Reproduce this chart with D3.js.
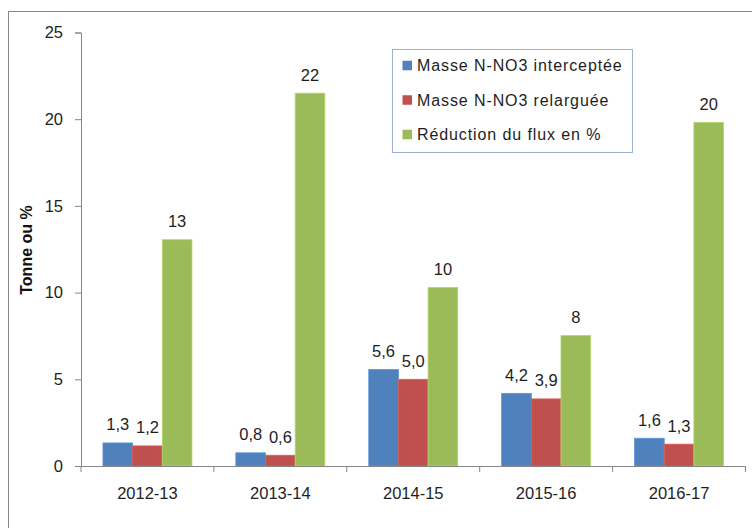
<!DOCTYPE html>
<html><head><meta charset="utf-8">
<script src="https://cdn.jsdelivr.net/npm/d3@7/dist/d3.min.js"></script>
<style>
html,body{margin:0;padding:0;background:#fff;}
svg{display:block;font-family:"Liberation Sans",Arial,sans-serif;}
</style></head>
<body>
<svg id="chart" width="752" height="528"></svg>
<script>
const categories = ["2012-13","2013-14","2014-15","2015-16","2016-17"];
const seriesNames = ["Masse N-NO3 interceptée","Masse N-NO3 relarguée","Réduction du flux en %"];
const intercepted = [1.33, 0.76, 5.57, 4.19, 1.6];
const released = [1.16, 0.62, 5.0, 3.87, 1.26];
const reduction = [13.05, 21.5, 10.3, 7.52, 19.82];
const yTicks = [0, 5, 10, 15, 20, 25];
const colors = ["#4F81BD","#C0504D","#9BBB59"];
const labelFormats = [".1f", ".1f", ".0f"];

(function () {
const series = [intercepted, released, reduction];
const fr = d3.formatLocale({decimal: ",", thousands: " ", grouping: [3], currency: ["", " €"]});

const svg = d3.select("#chart");
const mLeft = 81, mRight = 745.5, mTop = 32.5, mBottom = 466;

// outer border
svg.append("rect").attr("x", 8.5).attr("y", 11.5).attr("width", 760).attr("height", 540)
  .attr("fill", "none").attr("stroke", "#878787").attr("stroke-width", 1);

const y = d3.scaleLinear().domain([0, 25]).range([mBottom, mTop]);
const x0 = d3.scaleBand().domain(categories).range([mLeft, mRight]).paddingInner(0).paddingOuter(0);
const bw = x0.bandwidth();
const x1 = d3.scaleBand().domain(d3.range(series.length)).range([0, bw]).paddingInner(0).paddingOuter(0.74);

// bars
series.forEach((vals, si) => {
  const g = svg.append("g");
  g.selectAll("rect").data(vals).join("rect")
    .attr("x", (d, i) => x0(categories[i]) + x1(si))
    .attr("y", d => y(d))
    .attr("width", x1.bandwidth())
    .attr("height", d => y(0) - y(d))
    .attr("fill", colors[si])
    .attr("stroke", d3.color(colors[si]).brighter(0.4))
    .attr("stroke-width", 0.8);
  g.selectAll("text").data(vals).join("text")
    .attr("x", (d, i) => x0(categories[i]) + x1(si) + x1.bandwidth() / 2)
    .attr("y", d => y(d) - 12.5)
    .attr("text-anchor", "middle")
    .attr("font-size", 16.5)
    .attr("fill", "#1e1e1e")
    .text(d => fr.format(labelFormats[si])(d));
});

// y axis
const yAxis = svg.append("g").attr("transform", `translate(${mLeft},0)`)
  .call(d3.axisLeft(y).tickValues(yTicks).tickSize(6).tickPadding(12).tickFormat(d3.format("d")));
yAxis.select(".domain").attr("stroke", "#868686");
yAxis.selectAll(".tick line").attr("stroke", "#868686");
yAxis.selectAll(".tick text").attr("font-size", 16.5).attr("fill", "#1e1e1e")
  .attr("font-family", "Liberation Sans, Arial, sans-serif");

// x axis
const xAxis = svg.append("g").attr("transform", `translate(0,${mBottom})`)
  .call(d3.axisBottom(x0).tickSize(0).tickPadding(21));
xAxis.select(".domain").attr("stroke", "#868686").attr("d", `M${mLeft},0.5H${mRight}`);
xAxis.selectAll(".tick text").attr("font-size", 16.5).attr("fill", "#1e1e1e")
  .attr("font-family", "Liberation Sans, Arial, sans-serif");
const bounds = categories.map(c => x0(c)).concat([mRight]);
xAxis.selectAll(".bound").data(bounds).join("line").attr("class", "bound")
  .attr("x1", d => d).attr("x2", d => d).attr("y1", 0).attr("y2", 6)
  .attr("stroke", "#868686");

// y title
svg.append("text")
  .attr("transform", `translate(32,250) rotate(-90)`)
  .attr("text-anchor", "middle")
  .attr("font-size", 16).attr("font-weight", "bold").attr("fill", "#111")
  .text("Tonne ou %");

// legend
const lg = svg.append("g");
lg.append("rect").attr("x", 392.5).attr("y", 49.5).attr("width", 240).attr("height", 103)
  .attr("fill", "#fff").attr("stroke", "#9cb1d2");
const rowY = [65.5, 100, 134.5];
seriesNames.forEach((n, i) => {
  lg.append("rect").attr("x", 402.5).attr("y", rowY[i] - 4.75).attr("width", 9.5).attr("height", 9.5)
    .attr("fill", colors[i]);
  lg.append("text").attr("x", 417).attr("y", rowY[i]).attr("dy", "0.36em")
    .attr("font-size", 16).attr("letter-spacing", "0.9px").attr("fill", "#1e1e1e").text(n);
});
})();
</script>
</body></html>
